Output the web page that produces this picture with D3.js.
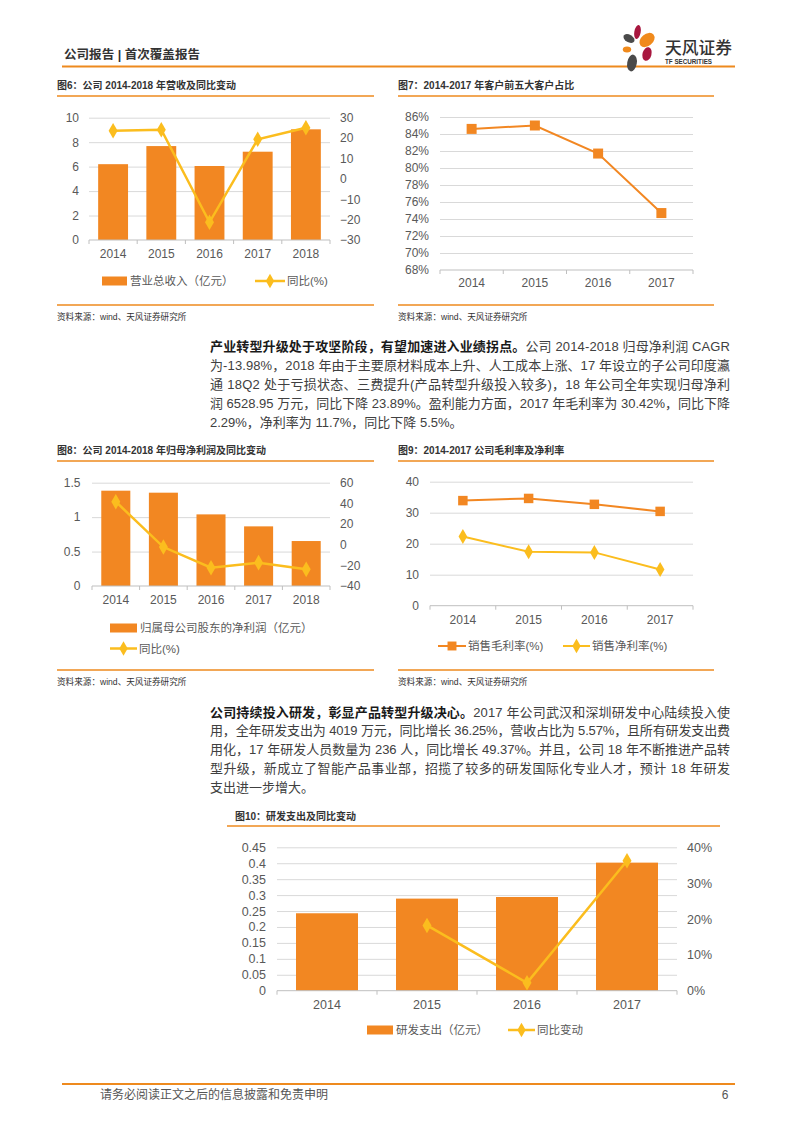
<!DOCTYPE html>
<html>
<head>
<meta charset="utf-8">
<script src="https://cdn.jsdelivr.net/npm/d3@7"></script>
<style>
  html, body { margin: 0; padding: 0; background: #ffffff; }
  svg { display: block; }
  text { font-family: "Liberation Sans", "Noto Sans CJK SC", sans-serif; }
</style>
</head>
<body>
<script>
// ---------------- DATA ----------------
const years5 = ["2014", "2015", "2016", "2017", "2018"];
const years4 = ["2014", "2015", "2016", "2017"];

// 图6
const revenue = [6.2, 7.68, 6.05, 7.22, 9.05];
const revenueYoY = [23.6, 24.1, -21.3, 19.4, 25.1];
const fig6LeftTicks = [0, 2, 4, 6, 8, 10];
const fig6RightTicks = [-30, -20, -10, 0, 10, 20, 30];

// 图7
const top5Share = [84.6, 85.0, 81.7, 74.7];
const fig7Ticks = [68, 70, 72, 74, 76, 78, 80, 82, 84, 86];

// 图8
const netProfit = [1.384, 1.355, 1.04, 0.866, 0.653];
const netProfitYoY = [41.6, -2.3, -22.3, -17.4, -23.89];
const fig8LeftTicks = [0, 0.5, 1, 1.5];
const fig8RightTicks = [-40, -20, 0, 20, 40, 60];

// 图9
const grossMargin = [33.9, 34.6, 32.7, 30.42];
const netMargin = [22.3, 17.4, 17.2, 11.7];
const fig9Ticks = [0, 10, 20, 30, 40];

// 图10
const rdSpend = [0.243, 0.289, 0.294, 0.4019];
const rdYoY = [null, 18.2, 2.2, 36.25];
const fig10LeftTicks = [0, 0.05, 0.1, 0.15, 0.2, 0.25, 0.3, 0.35, 0.4, 0.45];
const fig10RightTicks = [0, 10, 20, 30, 40];

// text
const para1 = [
  [["b", "产业转型升级处于攻坚阶段，有望加速进入业绩拐点。"], ["n", "公司 2014-2018 归母净利润 CAGR"]],
  [["n", "为-13.98%，2018 年由于主要原材料成本上升、人工成本上涨、17 年设立的子公司印度瀛"]],
  [["n", "通 18Q2 处于亏损状态、三费提升(产品转型升级投入较多)，18 年公司全年实现归母净利"]],
  [["n", "润 6528.95 万元，同比下降 23.89%。盈利能力方面，2017 年毛利率为 30.42%，同比下降"]],
  [["n", "2.29%，净利率为 11.7%，同比下降 5.5%。"]]
];
const para2 = [
  [["b", "公司持续投入研发，彰显产品转型升级决心。"], ["n", "2017 年公司武汉和深圳研发中心陆续投入使"]],
  [["n", "用，全年研发支出为 4019 万元，同比增长 36.25%，营收占比为 5.57%，且所有研发支出费"]],
  [["n", "用化，17 年研发人员数量为 236 人，同比增长 49.37%。并且，公司 18 年不断推进产品转"]],
  [["n", "型升级，新成立了智能产品事业部，招揽了较多的研发国际化专业人才，预计 18 年研发"]],
  [["n", "支出进一步增大。"]]
];

// ---------------- STYLE ----------------
const ORANGE = "#F28722";
const YELLOW = "#FBBD1E";
const RULE = "#EE8A1E";
const GRID = "#D9D9D9";
const AXIS = "#BFBFBF";
const LABEL = "#595959";
const CJK = "'Noto Sans CJK SC', sans-serif";

const svg = d3.select("body").append("svg").attr("width", 793).attr("height", 1122);

// ---------------- HEADER ----------------
svg.append("text").attr("x", 64).attr("y", 55).attr("dy", "0.35em")
  .attr("font-family", CJK).attr("font-weight", 700).attr("font-size", 12.5)
  .attr("fill", "#333").attr("textLength", 136).attr("lengthAdjust", "spacingAndGlyphs")
  .text("公司报告 | 首次覆盖报告");
svg.append("line").attr("x1", 62).attr("x2", 735).attr("y1", 66.5).attr("y2", 66.5)
  .attr("stroke", RULE).attr("stroke-width", 2);

// logo
const logo = svg.append("g");
const petals = [
  { cx: 637.5, cy: 32, rx: 3.2, ry: 7, rot: 10, c: "#A8173F" },
  { cx: 629, cy: 38.5, rx: 6, ry: 3.8, rot: 30, c: "#4A4A4A" },
  { cx: 647, cy: 40, rx: 8.5, ry: 6, rot: -40, c: "#F08A1C" },
  { cx: 627, cy: 49.5, rx: 4.2, ry: 3, rot: 0, c: "#F08A1C" },
  { cx: 647, cy: 54, rx: 4.5, ry: 7, rot: 15, c: "#A8173F" },
  { cx: 632, cy: 63, rx: 4.8, ry: 8.5, rot: 10, c: "#4A4A4A" }
];
logo.selectAll("ellipse").data(petals).join("ellipse")
  .attr("cx", d => d.cx).attr("cy", d => d.cy).attr("rx", d => d.rx).attr("ry", d => d.ry)
  .attr("transform", d => `rotate(${d.rot},${d.cx},${d.cy})`).attr("fill", d => d.c);
svg.append("text").attr("x", 665).attr("y", 48).attr("dy", "0.35em")
  .attr("font-family", CJK).attr("font-weight", 500).attr("font-size", 16.5).attr("fill", "#333")
  .attr("textLength", 67).attr("lengthAdjust", "spacingAndGlyphs").text("天风证券");
svg.append("text").attr("x", 665).attr("y", 61.5).attr("dy", "0.35em")
  .attr("font-weight", 700).attr("font-size", 6.3).attr("fill", "#333")
  .attr("textLength", 47).attr("lengthAdjust", "spacingAndGlyphs").text("TF SECURITIES");

// ---------------- HELPERS ----------------
function titleBlock(x, y, text, rx0, rx1, ry) {
  svg.append("text").attr("x", x).attr("y", y).attr("dy", "0.35em")
    .attr("font-weight", 700).attr("font-size", 10).attr("fill", "#333").text(text);
  svg.append("line").attr("x1", rx0).attr("x2", rx1).attr("y1", ry).attr("y2", ry)
    .attr("stroke", RULE).attr("stroke-width", 1.3);
}
function sourceBlock(x, y, rx0, rx1, ry) {
  svg.append("line").attr("x1", rx0).attr("x2", rx1).attr("y1", ry).attr("y2", ry)
    .attr("stroke", RULE).attr("stroke-width", 1.3);
  svg.append("text").attr("x", x).attr("y", y).attr("dy", "0.35em")
    .attr("font-size", 8.6).attr("fill", "#333").text("资料来源：wind、天风证券研究所");
}
function gridlines(g, y, ticks, x0, x1) {
  g.append("g").attr("transform", `translate(${x0},0)`)
    .call(d3.axisLeft(y).tickValues(ticks).tickSize(-(x1 - x0)).tickFormat(""))
    .call(a => a.select(".domain").remove())
    .call(a => a.selectAll("line").attr("stroke", GRID).attr("stroke-width", 1));
}
function yLabels(g, y, ticks, x, fmt, side, fs) {
  const ax = side === "left" ? d3.axisLeft(y) : d3.axisRight(y);
  g.append("g").attr("transform", `translate(${x},0)`)
    .call(ax.tickValues(ticks).tickSize(0).tickPadding(0).tickFormat(fmt))
    .call(a => a.select(".domain").remove())
    .call(a => a.selectAll("text").attr("fill", LABEL).attr("font-size", fs)
      .attr("font-family", "'Liberation Sans', sans-serif"));
}
function xAxis(g, x, y0, labelY, fs) {
  // baseline
  const r = x.range();
  g.append("line").attr("x1", r[0]).attr("x2", r[1]).attr("y1", y0).attr("y2", y0)
    .attr("stroke", AXIS).attr("stroke-width", 1);
  // boundary ticks
  const n = x.domain().length;
  const step = (r[1] - r[0]) / n;
  g.append("g").selectAll("line").data(d3.range(n + 1)).join("line")
    .attr("x1", i => r[0] + i * step).attr("x2", i => r[0] + i * step)
    .attr("y1", y0).attr("y2", y0 + 4).attr("stroke", AXIS);
  // labels
  g.append("g").attr("transform", `translate(0,${y0})`)
    .call(d3.axisBottom(x).tickSize(0).tickPadding(0))
    .call(a => a.select(".domain").remove())
    .call(a => a.selectAll("text").attr("y", labelY - y0).attr("dy", "0.35em")
      .attr("fill", LABEL).attr("font-size", fs).attr("font-family", "'Liberation Sans', sans-serif"));
}
const diamond = d3.symbol().type(d3.symbolDiamond);
const square = d3.symbol().type(d3.symbolSquare);
function center(x, d) { return x(d) + (x.bandwidth ? x.bandwidth() / 2 : 0); }
function legendRect(g, x0, x1, y, text, fs) {
  g.append("rect").attr("x", x0).attr("y", y - 4.5).attr("width", x1 - x0).attr("height", 9).attr("fill", ORANGE);
  g.append("text").attr("x", x1 + 3).attr("y", y).attr("dy", "0.35em").attr("font-family", CJK)
    .attr("font-size", fs).attr("fill", LABEL).text(text);
}
function legendLine(g, x0, x1, y, color, sym, size, text, fs, sw) {
  g.append("line").attr("x1", x0).attr("x2", x1).attr("y1", y).attr("y2", y).attr("stroke", color).attr("stroke-width", sw);
  g.append("path").attr("d", sym.size(size)()).attr("transform", `translate(${(x0 + x1) / 2},${y})`).attr("fill", color);
  g.append("text").attr("x", x1 + 2).attr("y", y).attr("dy", "0.35em").attr("font-family", CJK)
    .attr("font-size", fs).attr("fill", LABEL).text(text);
}

// ---------------- 图6 ----------------
(function () {
  const g = svg.append("g");
  titleBlock(57, 85, "图6：公司 2014-2018 年营收及同比变动", 57, 374, 96);
  const x = d3.scaleBand().domain(years5).range([89, 330]).paddingInner(0.38).paddingOuter(0.19);
  const yL = d3.scaleLinear().domain([0, 10]).range([240, 117.7]);
  const yR = d3.scaleLinear().domain([-30, 30]).range([240, 117.7]);
  gridlines(g, yL, fig6LeftTicks.slice(1), 89, 330);
  g.selectAll("rect.bar").data(revenue).join("rect").attr("class", "bar")
    .attr("x", (d, i) => x(years5[i])).attr("width", x.bandwidth())
    .attr("y", d => yL(d)).attr("height", d => yL(0) - yL(d)).attr("fill", ORANGE);
  xAxis(g, x, 240, 254, 12);
  yLabels(g, yL, fig6LeftTicks, 79, d3.format("d"), "left", 12);
  yLabels(g, yR, fig6RightTicks, 340, d3.format("d"), "right", 12);
  const line = d3.line().x((d, i) => center(x, years5[i])).y(d => yR(d));
  g.append("path").attr("d", line(revenueYoY)).attr("fill", "none").attr("stroke", YELLOW).attr("stroke-width", 2.5);
  g.selectAll("path.m").data(revenueYoY).join("path").attr("class", "m")
    .attr("d", diamond.size(70)()).attr("transform", (d, i) => `translate(${center(x, years5[i])},${yR(d)})`).attr("fill", YELLOW);
  legendRect(g, 102, 127, 281, "营业总收入（亿元）", 11.5);
  legendLine(g, 255, 285, 281, YELLOW, diamond, 60, "同比(%)", 11.5, 2.5);
  sourceBlock(57, 317, 57, 374, 305);
})();

// ---------------- 图7 ----------------
(function () {
  const g = svg.append("g");
  titleBlock(398, 85, "图7：2014-2017 年客户前五大客户占比", 398, 714, 96);
  const x = d3.scaleBand().domain(years4).range([440, 693]).padding(0);
  const y = d3.scaleLinear().domain([68, 86]).range([270, 117]);
  gridlines(g, y, fig7Ticks.slice(1), 440, 693);
  xAxis(g, x, 270, 283, 12);
  yLabels(g, y, fig7Ticks, 429, d => d + "%", "left", 12);
  const line = d3.line().x((d, i) => center(x, years4[i])).y(d => y(d));
  g.append("path").attr("d", line(top5Share)).attr("fill", "none").attr("stroke", ORANGE).attr("stroke-width", 2);
  g.selectAll("path.m").data(top5Share).join("path").attr("class", "m")
    .attr("d", square.size(100)()).attr("transform", (d, i) => `translate(${center(x, years4[i])},${y(d)})`).attr("fill", ORANGE);
  sourceBlock(398, 317, 398, 714, 305);
})();

// ---------------- Paragraph ----------------
function paragraph(lines, y0, lh) {
  lines.forEach((ln, i) => {
    const t = svg.append("text").attr("x", 210).attr("y", y0 + i * lh).attr("dy", "0.35em")
      .attr("font-size", 13).attr("fill", "#404040");
    ln.forEach(([k, s]) => {
      t.append("tspan").attr("font-weight", k === "b" ? 700 : 400)
        .attr("fill", k === "b" ? "#1a1a1a" : "#404040")
        .attr("font-family", k === "b" ? CJK : null).text(s);
    });
    if (i < lines.length - 1) t.attr("textLength", 520).attr("lengthAdjust", "spacing");
  });
}
paragraph(para1, 346.5, 19);

// ---------------- 图8 ----------------
(function () {
  const g = svg.append("g");
  titleBlock(57, 450, "图8：公司 2014-2018 年归母净利润及同比变动", 57, 374, 461);
  const x = d3.scaleBand().domain(years5).range([92, 330]).paddingInner(0.39).paddingOuter(0.195);
  const yL = d3.scaleLinear().domain([0, 1.5]).range([586, 482.7]);
  const yR = d3.scaleLinear().domain([-40, 60]).range([586, 482.7]);
  gridlines(g, yL, fig8LeftTicks.slice(1), 92, 330);
  g.selectAll("rect.bar").data(netProfit).join("rect").attr("class", "bar")
    .attr("x", (d, i) => x(years5[i])).attr("width", x.bandwidth())
    .attr("y", d => yL(d)).attr("height", d => yL(0) - yL(d)).attr("fill", ORANGE);
  xAxis(g, x, 586, 599.5, 12);
  yLabels(g, yL, fig8LeftTicks, 80.5, d => String(d), "left", 12);
  yLabels(g, yR, fig8RightTicks, 340, d3.format("d"), "right", 12);
  const line = d3.line().x((d, i) => center(x, years5[i])).y(d => yR(d));
  g.append("path").attr("d", line(netProfitYoY)).attr("fill", "none").attr("stroke", YELLOW).attr("stroke-width", 2.5);
  g.selectAll("path.m").data(netProfitYoY).join("path").attr("class", "m")
    .attr("d", diamond.size(70)()).attr("transform", (d, i) => `translate(${center(x, years5[i])},${yR(d)})`).attr("fill", YELLOW);
  legendRect(g, 110, 137, 628, "归属母公司股东的净利润（亿元）", 11.5);
  legendLine(g, 110, 137, 648.5, YELLOW, diamond, 60, "同比(%)", 11.5, 2.5);
  sourceBlock(57, 682, 57, 374, 670);
})();

// ---------------- 图9 ----------------
(function () {
  const g = svg.append("g");
  titleBlock(398, 450, "图9：2014-2017 公司毛利率及净利率", 398, 714, 461);
  const x = d3.scaleBand().domain(years4).range([430, 693]).padding(0);
  const y = d3.scaleLinear().domain([0, 40]).range([605.7, 481.7]);
  gridlines(g, y, fig9Ticks.slice(1), 430, 693);
  xAxis(g, x, 605.7, 619.5, 12);
  yLabels(g, y, fig9Ticks, 419, d3.format("d"), "left", 12);
  const line = d3.line().x((d, i) => center(x, years4[i])).y(d => y(d));
  g.append("path").attr("d", line(grossMargin)).attr("fill", "none").attr("stroke", ORANGE).attr("stroke-width", 2);
  g.selectAll("path.m1").data(grossMargin).join("path").attr("class", "m1")
    .attr("d", square.size(90)()).attr("transform", (d, i) => `translate(${center(x, years4[i])},${y(d)})`).attr("fill", ORANGE);
  g.append("path").attr("d", line(netMargin)).attr("fill", "none").attr("stroke", YELLOW).attr("stroke-width", 2);
  g.selectAll("path.m2").data(netMargin).join("path").attr("class", "m2")
    .attr("d", diamond.size(65)()).attr("transform", (d, i) => `translate(${center(x, years4[i])},${y(d)})`).attr("fill", YELLOW);
  legendLine(g, 438, 466, 646, ORANGE, square, 80, "销售毛利率(%)", 11.5, 2);
  legendLine(g, 563, 590, 646, YELLOW, diamond, 60, "销售净利率(%)", 11.5, 2);
  sourceBlock(398, 682, 398, 714, 670);
})();

paragraph(para2, 712, 18.8);

// ---------------- 图10 ----------------
(function () {
  const g = svg.append("g");
  titleBlock(235, 816, "图10：研发支出及同比变动", 227, 720, 826);
  const x = d3.scaleBand().domain(years4).range([277, 677]).paddingInner(0.38).paddingOuter(0.19);
  const yL = d3.scaleLinear().domain([0, 0.45]).range([990.7, 847.3]);
  const yR = d3.scaleLinear().domain([0, 40]).range([990.7, 847.3]);
  gridlines(g, yL, fig10LeftTicks.slice(1), 277, 677);
  g.selectAll("rect.bar").data(rdSpend).join("rect").attr("class", "bar")
    .attr("x", (d, i) => x(years4[i])).attr("width", x.bandwidth())
    .attr("y", d => yL(d)).attr("height", d => yL(0) - yL(d)).attr("fill", ORANGE);
  xAxis(g, x, 990.7, 1005, 12.5);
  yLabels(g, yL, fig10LeftTicks, 266, d => String(+d.toFixed(2)), "left", 12.5);
  yLabels(g, yR, fig10RightTicks, 687, d => d + "%", "right", 12.5);
  const pts = rdYoY.map((d, i) => [years4[i], d]).filter(p => p[1] !== null);
  const line = d3.line().x(p => center(x, p[0])).y(p => yR(p[1]));
  g.append("path").attr("d", line(pts)).attr("fill", "none").attr("stroke", YELLOW).attr("stroke-width", 2.5);
  g.selectAll("path.m").data(pts).join("path").attr("class", "m")
    .attr("d", diamond.size(70)()).attr("transform", p => `translate(${center(x, p[0])},${yR(p[1])})`).attr("fill", YELLOW);
  legendRect(g, 367, 393, 1030, "研发支出（亿元）", 11.5);
  legendLine(g, 508, 535, 1030, YELLOW, diamond, 60, "同比变动", 11.5, 2.5);
})();

// ---------------- FOOTER ----------------
svg.append("line").attr("x1", 62).attr("x2", 735).attr("y1", 1084).attr("y2", 1084)
  .attr("stroke", RULE).attr("stroke-width", 2);
svg.append("text").attr("x", 100).attr("y", 1095).attr("dy", "0.35em")
  .attr("font-family", CJK).attr("font-size", 12).attr("fill", "#555").text("请务必阅读正文之后的信息披露和免责申明");
svg.append("text").attr("x", 725).attr("y", 1095).attr("dy", "0.35em").attr("text-anchor", "middle")
  .attr("font-size", 12).attr("fill", "#555").text("6");
</script>
</body>
</html>
